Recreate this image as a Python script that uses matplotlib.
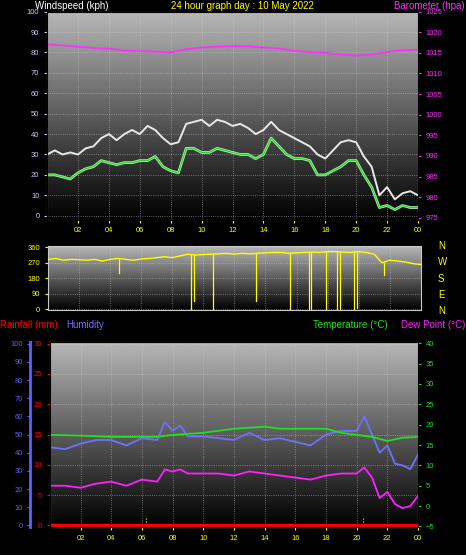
import numpy as np
import matplotlib
matplotlib.use("Agg")
import matplotlib.pyplot as plt

plt.rcParams["font.family"] = ["Liberation Sans", "DejaVu Sans"]

# half-hourly wind (kph)
wind_t = [i * 0.5 for i in range(49)]
gust = [30, 32, 30, 31, 30, 33, 34, 38, 40, 37, 40, 42, 40, 44, 42, 38, 35, 36,
        45, 46, 47, 44, 47, 46, 44, 45, 43, 40, 42, 46, 42, 40, 38, 36, 34, 30,
        28, 32, 36, 37, 36, 29, 24, 10, 14, 8, 11, 12, 10]
avg = [20, 20, 19, 18, 21, 23, 24, 27, 26, 25, 26, 26, 27, 27, 29, 24, 22, 21,
       33, 33, 31, 31, 33, 32, 31, 30, 30, 28, 30, 38, 34, 30, 28, 28, 27, 20,
       20, 22, 24, 27, 27, 20, 14, 4, 5, 3, 5, 4, 4]
# hourly pressure (hPa)
baro_t = list(range(25))
baro = [1017, 1016.8, 1016.5, 1016.2, 1016, 1015.6, 1015.4, 1015.3, 1015.1, 1015.9,
        1016.3, 1016.5, 1016.6, 1016.6, 1016.3, 1016.1, 1015.5, 1015.2, 1015, 1014.6,
        1014.3, 1014.6, 1015.2, 1015.6, 1015.8]
# wind direction (deg)
dir_t = wind_t
wdir = [290, 295, 285, 290, 288, 285, 290, 280, 290, 295, 290, 285, 292, 295, 300,
        305, 300, 310, 320, 315, 318, 320, 322, 325, 320, 325, 322, 325, 328, 330,
        330, 325, 328, 330, 332, 330, 335, 335, 332, 330, 335, 330, 320, 270, 285,
        280, 275, 265, 260]
dip_t = [9.2, 9.4, 10.6, 13.4, 15.6, 16.8, 16.9, 17.9, 18.6, 18.8, 19.7, 19.9, 4.6, 21.6]
dip_v = [0, 50, 0, 50, 0, 0, 0, 0, 0, 0, 0, 10, 210, 200]
# humidity / temperature / dew point
hum_t = [0, 1, 2, 3, 4, 5, 6, 7, 7.5, 8, 8.5, 9, 10, 11, 12, 13, 14, 15, 16, 17, 18,
         19, 20, 20.5, 21, 21.5, 22, 22.5, 23, 23.5, 24]
hum = [43, 42, 45, 47, 47, 44, 48, 47, 57, 52, 55, 49, 49, 48, 47, 51, 47, 48, 46, 44,
       50, 52, 52, 60, 50, 40, 44, 34, 33, 31, 39]
dew = [5, 5, 4.5, 5.5, 6, 5, 6.5, 6, 9, 8.5, 9, 8, 8, 8, 7.5, 8.5, 8, 7.5, 7, 6.5, 7.5,
       8, 8, 9.5, 7, 2, 3.5, 0.5, -0.5, 0, 2.5]
temp_t = [0, 2, 4, 6, 7, 8, 10, 11, 12, 14, 15, 17, 18, 19, 20, 21, 22, 23, 24]
temp = [17.5, 17.3, 17, 17, 17, 17.5, 18, 18.5, 19, 19.5, 19, 19, 19, 18, 17.5, 17, 16,
        16.8, 17]
rain = [0, 0]
sun_t = [6.3, 20.4]

xticks = list(range(2, 25, 2))
xlabels = ["%02d" % (h % 24) for h in xticks]

fig = plt.figure(figsize=(4.66, 5.55), dpi=100, facecolor="black")
grad = np.linspace(0.72, 0.0, 256).reshape(-1, 1)
FS = 7


def setup(ax, ymin, ymax):
    ax.set_facecolor("black")
    ax.imshow(grad, aspect="auto", cmap="gray", vmin=0, vmax=1,
              extent=[0, 24, ymin, ymax], zorder=0)
    ax.set_xlim(0, 24)
    ax.set_ylim(ymin, ymax)
    ax.grid(True, color="#d0d0d0", linestyle=":", linewidth=0.6, alpha=0.6)
    for s in ax.spines.values():
        s.set_color("#c8c8c8")
    ax.set_xticks(xticks)
    ax.tick_params(labelsize=5.5, length=2, colors="yellow")


# top
ax1 = fig.add_axes([0.101, 0.604, 0.796, 0.375])
setup(ax1, -2, 100)
ax1.set_xticklabels(xlabels, color="yellow")
ax1.set_yticks(range(0, 101, 10))
ax1.tick_params(axis="y", colors="#c8c8ff")
ax1.plot(wind_t, gust, color="#e8e8e8", lw=1.4, zorder=3)
ax1.plot(wind_t, avg, color="#a0f0a0", lw=2.0, zorder=4)
ax1.plot(wind_t, avg, color="#20d020", lw=0.7, zorder=5)
ax1b = ax1.twinx()
ax1b.set_ylim(974.5, 1025)
ax1b.set_yticks(range(975, 1026, 5))
ax1b.tick_params(labelsize=5.5, length=2, colors="#ff30ff")
ax1b.plot(baro_t, baro, color="#ff30ff", lw=1.3)
fig.text(0.075, 0.998, "Windspeed (kph)", color="white", fontsize=FS, va="top")
fig.text(0.52, 0.998, "24 hour graph day : 10 May 2022", color="yellow", fontsize=FS,
         va="top", ha="center")
fig.text(0.998, 0.998, "Barometer (hpa)", color="#ff30ff", fontsize=FS, va="top", ha="right")

# middle
ax2 = fig.add_axes([0.103, 0.441, 0.8, 0.115])
setup(ax2, -5, 365)
ax2.set_xticklabels([])
ax2.tick_params(axis="x", length=0)
ax2.set_yticks([0, 90, 180, 270, 360])
ax2.plot(dir_t, wdir, color="yellow", lw=1.0, zorder=3)
for t, v in zip(dip_t, dip_v):
    base = np.interp(t, dir_t, wdir)
    ax2.plot([t, t], [v, base], color="yellow", lw=0.9, zorder=3)
for i, c in enumerate(["N", "W", "S", "E", "N"]):
    fig.text(0.94, 0.557 - i * 0.0295, c, color="yellow", fontsize=FS, va="center")

# bottom
ax3 = fig.add_axes([0.107, 0.05, 0.79, 0.333])
setup(ax3, -0.3, 30.2)
ax3.set_xticklabels(xlabels, color="yellow")
ax3.set_yticks(range(0, 31, 5))
ax3.tick_params(axis="y", colors="red")
ax3.plot([0, 24], rain, color="red", lw=2.5, zorder=5)
for t in sun_t:
    ax3.plot([t, t], [0, 1.6], color="yellow", lw=0.8, linestyle=":", zorder=4)
ax3h = ax3.twinx()
ax3h.set_ylim(-1, 100.7)
ax3h.spines["right"].set_visible(False)
ax3h.spines["left"].set_visible(True)
ax3h.spines["left"].set_position(("outward", 14))
ax3h.spines["left"].set_color("#6060ff")
ax3h.spines["left"].set_linewidth(2)
ax3h.yaxis.set_ticks_position("left")
ax3h.set_yticks(range(0, 101, 10))
ax3h.tick_params(labelsize=5.5, length=2, colors="#6060ff")
ax3h.plot(hum_t, hum, color="#7070ff", lw=1.3, zorder=3)
ax3t = ax3.twinx()
ax3t.set_ylim(-5.2, 40.2)
ax3t.set_yticks(range(-5, 41, 5))
ax3t.tick_params(labelsize=5.5, length=2, colors="#20e020")
ax3t.plot(temp_t, temp, color="#20e020", lw=1.3)
ax3t.plot(hum_t, dew, color="#ff20ff", lw=1.3)
fig.text(0.0, 0.415, "Rainfall (mm)", color="red", fontsize=FS, va="center")
fig.text(0.143, 0.415, "Humidity", color="#7070ff", fontsize=FS, va="center")
fig.text(0.672, 0.415, "Temperature (°C)", color="#20e020", fontsize=FS, va="center")
fig.text(0.998, 0.415, "Dew Point (°C)", color="#ff20ff", fontsize=FS, va="center", ha="right")

fig.savefig("out.png", dpi=100, facecolor="black")
